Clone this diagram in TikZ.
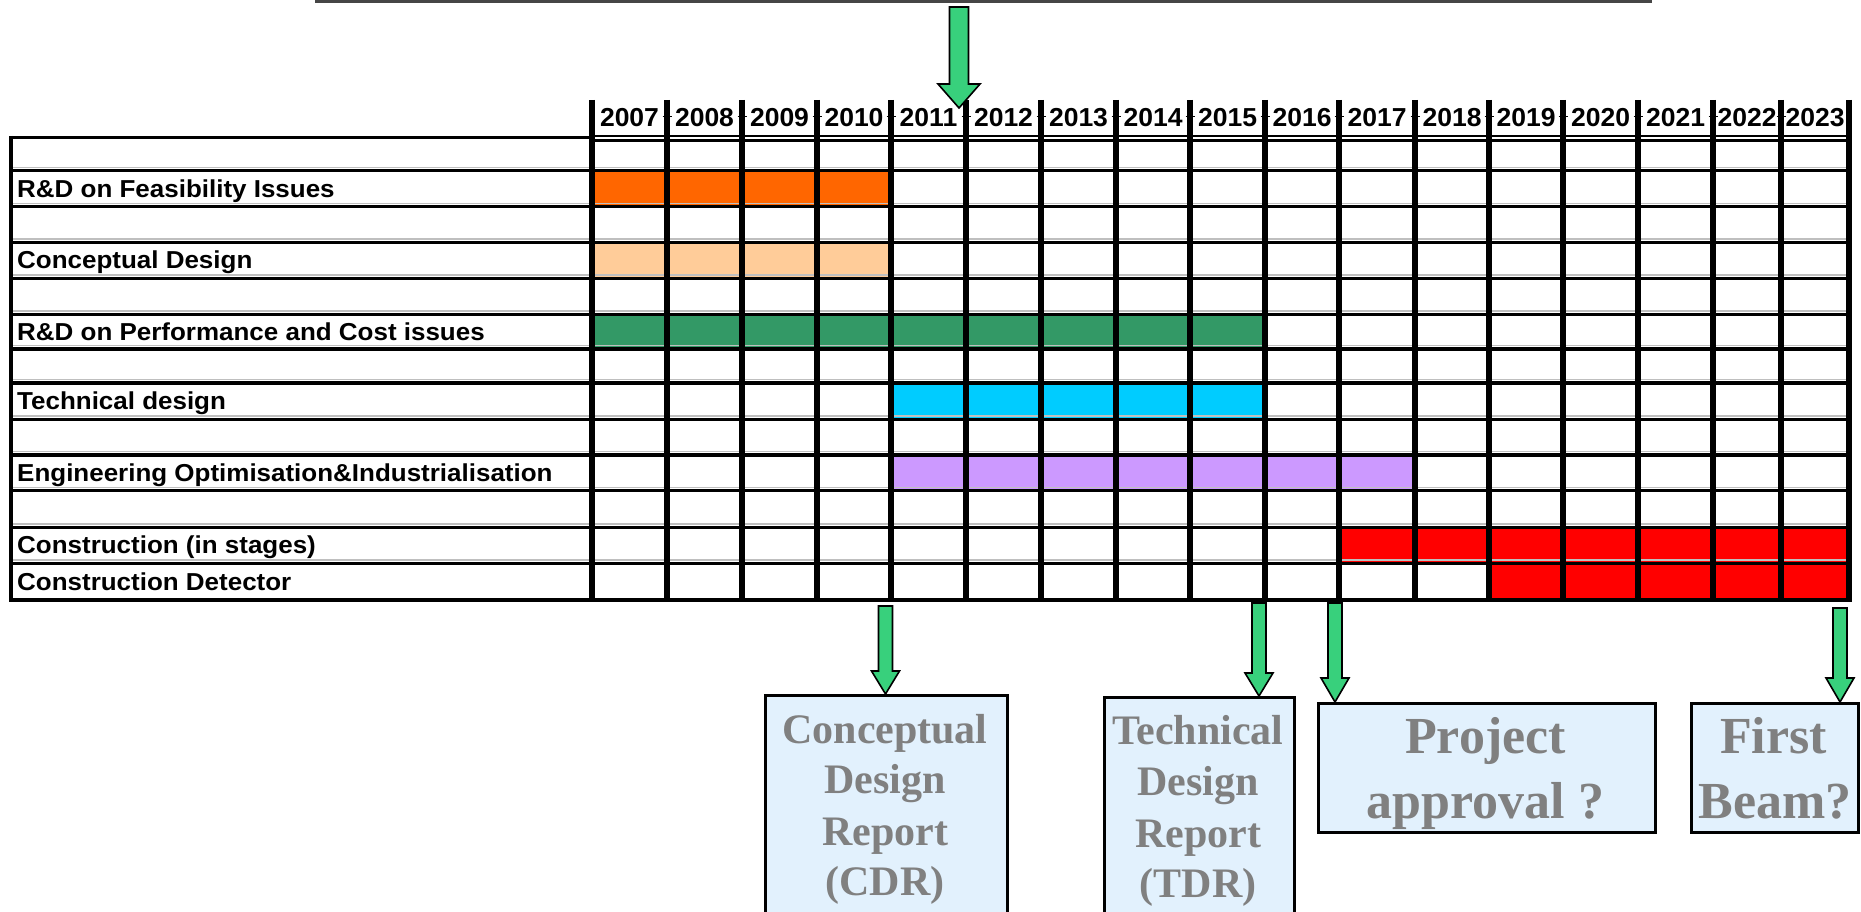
\documentclass[tikz,border=0pt]{standalone}
\usepackage{fontspec}
\setmainfont{Liberation Serif}
\newfontfamily\arialfont[FakeStretch=1.06]{Liberation Sans}
\newfontfamily\yearfont[FakeStretch=1.02]{Liberation Sans}
\usetikzlibrary{calc}
\definecolor{orangeF}{RGB}{255,102,0}
\definecolor{peach}{RGB}{255,204,153}
\definecolor{seagreen}{RGB}{51,153,102}
\definecolor{skyb}{RGB}{0,204,255}
\definecolor{lilac}{RGB}{204,153,255}
\definecolor{redC}{RGB}{255,0,0}
\definecolor{arrowgreen}{RGB}{56,208,124}
\definecolor{boxblue}{RGB}{226,241,253}
\definecolor{boxtext}{RGB}{128,128,128}
\definecolor{topgray}{RGB}{70,70,70}
\newcommand\ganttbar[4]{%
  \pgfmathtruncatemacro\gbA{#3+1}\pgfmathtruncatemacro\gbB{#1+1}%
  \fill[#4] (\csname cx#2\endcsname,\csname ry#1\endcsname) rectangle (\csname cx\gbA\endcsname,\csname ry\gbB\endcsname);}
\newcommand\blockarrow[5]{%
  \filldraw[arrowbody] let \p1=(#1), \p2=(#2) in
  (\x1-#3,\y1) -- (\x1+#3,\y1) -- (\x1+#3,\y2+#5) -- (\x1+#4,\y2+#5) -- (\x1,\y2)
  -- (\x1-#4,\y2+#5) -- (\x1-#3,\y2+#5) -- cycle;}
\begin{document}
\begin{tikzpicture}[x=1pt,y=-1pt,
  hline/.style={line width=3.5pt},
  vline/.style={line width=5.2pt},
  grayline/.style={line width=1.2pt, black!25},
  yearlbl/.style={font=\yearfont\bfseries\fontsize{26}{30}\selectfont, anchor=base, inner sep=0pt},
  rowlbl/.style={font=\arialfont\bfseries\fontsize{24.5}{30}\selectfont, anchor=base west, inner sep=0pt},
  arrowbody/.style={fill=arrowgreen, draw=black, line width=1.6pt, line join=miter},
  mbox/.style={draw=black, line width=2.6pt, fill=boxblue, inner sep=0pt},
  bigtxt/.style={font=\bfseries\fontsize{52}{62}\selectfont, text=boxtext, anchor=base, inner sep=0pt},
  midtxt/.style={font=\bfseries\fontsize{42}{50}\selectfont, text=boxtext, anchor=base, inner sep=0pt}]
\useasboundingbox (0,0) rectangle (1861,912);
\clip (0,0) rectangle (1861,912);
% column and row positions
\foreach \xx [count=\i from 0] in {592,667,742,817,891,966,1041,1116,1190,1265,1339,1415,1489,1563,1638,1713,1781,1849}
  {\expandafter\xdef\csname cx\i\endcsname{\xx}}
\foreach \yy [count=\i from 0] in {138,170.7,206.5,242.3,278.3,314.3,348.8,383,419.3,455,490.7,527.3,563.3,600}
  {\expandafter\xdef\csname ry\i\endcsname{\yy}}
% top rule
\coordinate (tl) at (315,1.5);
\coordinate (tr) at (1652,1.5);
\draw[topgray, line width=2.5pt] (tl) -- (tr);
% bars
\ganttbar{1}{0}{3}{orangeF}
\ganttbar{3}{0}{3}{peach}
\ganttbar{5}{0}{8}{seagreen}
\ganttbar{7}{4}{8}{skyb}
\ganttbar{9}{4}{10}{lilac}
\ganttbar{11}{10}{16}{redC}
\ganttbar{12}{12}{16}{redC}
% thin gray lines
\foreach \i in {1,...,12}{
  \draw[grayline] (11,{\csname ry\i\endcsname-3.3}) -- (1849,{\csname ry\i\endcsname-3.3});
}
% horizontal lines
\foreach \i in {1,...,12}{
  \draw[hline] (11,\csname ry\i\endcsname) -- (1849,\csname ry\i\endcsname);
}
\draw[line width=3.6pt] (11,137.5) -- (592,137.5);
\draw[line width=2.2pt] (592,136) -- (1849,136);
\draw[line width=2.8pt] (592,140.6) -- (1849,140.6);
\draw[line width=4pt] (9.5,600) -- (1851,600);
\draw[line width=3.2pt] (11,136) -- (11,601.7);
% header ticks
\foreach \i in {1,...,16}{
  \draw[line width=1pt] ({\csname cx\i\endcsname-4.5},116.7) -- ({\csname cx\i\endcsname+4.5},116.7);
}
% vertical lines
\draw[line width=6.5pt] (592,100) -- (592,601.7);
\foreach \i in {1,...,17}{
  \draw[vline] (\csname cx\i\endcsname,100) -- (\csname cx\i\endcsname,601.7);
}
% year labels
\foreach \yr [count=\i from 0] in {2007,...,2023}{
  \pgfmathtruncatemacro\nx{\i+1}
  \node[yearlbl] (y\yr) at ({(\csname cx\i\endcsname+\csname cx\nx\endcsname)/2},126.8) {\yr};
}
% row labels
\node[rowlbl] (l1) at (17,197.2) {R\&D on Feasibility Issues};
\node[rowlbl] (l3) at (17,268.8) {Conceptual Design};
\node[rowlbl] (l5) at (17,340.1) {R\&D on Performance and Cost issues};
\node[rowlbl] (l7) at (17,409.6) {Technical design};
\node[rowlbl] (l9) at (17,481.4) {Engineering Optimisation\&Industrialisation};
\node[rowlbl] (l11) at (17,553.8) {Construction (in stages)};
\node[rowlbl] (l12) at (17,590.1) {Construction Detector};
% milestone boxes
\node[mbox, minimum width=242pt, minimum height=260pt, anchor=north west] (cdr) at (764,694) {};
\node[mbox, minimum width=190pt, minimum height=260pt, anchor=north west] (tdr) at (1103,696) {};
\node[mbox, minimum width=337pt, minimum height=129pt, anchor=north west] (pa) at (1317,702) {};
\node[mbox, minimum width=167pt, minimum height=129pt, anchor=north west] (fb) at (1690,702) {};
% box texts
\node[midtxt] (cdr1) at (885,743) {Conceptual};
\node[midtxt] (cdr2) at (885,793) {Design};
\node[midtxt] (cdr3) at (885,845) {Report};
\node[midtxt] (cdr4) at (885,895) {(CDR)};
\node[midtxt] (tdr1) at (1198,744) {Technical};
\node[midtxt] (tdr2) at (1198,795) {Design};
\node[midtxt] (tdr3) at (1198,847) {Report};
\node[midtxt] (tdr4) at (1198,897) {(TDR)};
\node[bigtxt] (pa1) at (1485.5,753) {Project};
\node[bigtxt] (pa2) at (1485.5,818) {approval ?};
\node[bigtxt] (fb1) at (1773.5,753) {First};
\node[bigtxt] (fb2) at (1775,818) {Beam?};
% arrows
\coordinate (a0s) at (959,7);
\coordinate (a0e) at (959,108);
\blockarrow{a0s}{a0e}{9.5pt}{21pt}{24pt}
\coordinate (a1s) at (885.5,606);
\blockarrow{a1s}{cdr.north}{7pt}{14pt}{23pt}
\coordinate (a2s) at (1259,603);
\blockarrow{a2s}{tdr.north -| a2s}{7pt}{14pt}{23pt}
\coordinate (a3s) at (1335,603);
\blockarrow{a3s}{pa.north -| a3s}{7pt}{14pt}{24pt}
\coordinate (a4s) at (1840,608);
\blockarrow{a4s}{fb.north -| a4s}{7pt}{14pt}{24pt}
\end{tikzpicture}
\end{document}
